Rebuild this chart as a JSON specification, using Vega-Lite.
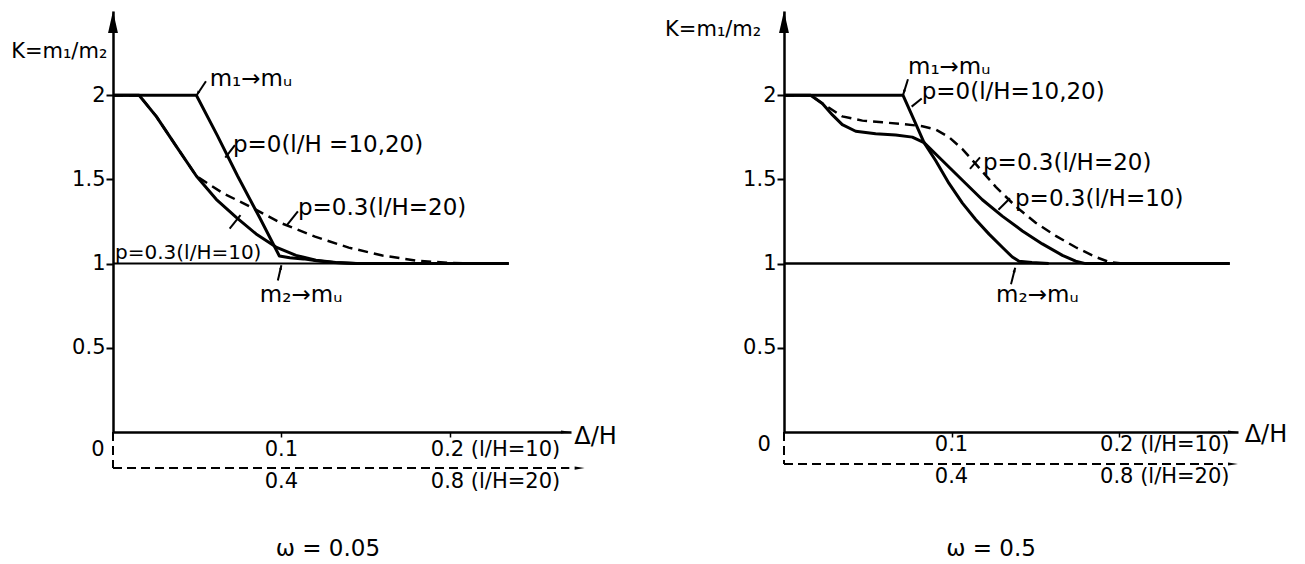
{
  "$schema": "https://vega.github.io/schema/vega-lite/v6.json",
  "background": "white",
  "padding": {"left": 11, "top": 11, "right": 0, "bottom": 0},
  "spacing": 213,
  "bounds": "flush",
  "config": {
    "view": {"stroke": null, "fill": "white"},
    "axis": {"grid": false, "domainColor": "black", "tickColor": "black", "labelColor": "black", "labelFont": "DejaVu Sans", "title": null},
    "text": {"font": "DejaVu Sans", "fill": "black"}
  },
  "datasets": {
    "L_curves": [
      {"s": "p0", "x": 0, "y": 2}, {"s": "p0", "x": 0.0495, "y": 2}, {"s": "p0", "x": 0.062, "y": 1.76}, {"s": "p0", "x": 0.074, "y": 1.52}, {"s": "p0", "x": 0.087, "y": 1.275}, {"s": "p0", "x": 0.0988, "y": 1.045}, {"s": "p0", "x": 0.105, "y": 1.035}, {"s": "p0", "x": 0.113, "y": 1.028}, {"s": "p0", "x": 0.121, "y": 1.017}, {"s": "p0", "x": 0.131, "y": 1.007}, {"s": "p0", "x": 0.145, "y": 1.0}, {"s": "p0", "x": 0.16, "y": 1.0},
      {"s": "p03_10", "x": 0, "y": 2}, {"s": "p03_10", "x": 0.0155, "y": 2}, {"s": "p03_10", "x": 0.0258, "y": 1.873}, {"s": "p03_10", "x": 0.0376, "y": 1.696}, {"s": "p03_10", "x": 0.0495, "y": 1.52}, {"s": "p03_10", "x": 0.0613, "y": 1.382}, {"s": "p03_10", "x": 0.0732, "y": 1.275}, {"s": "p03_10", "x": 0.085, "y": 1.176}, {"s": "p03_10", "x": 0.0968, "y": 1.098}, {"s": "p03_10", "x": 0.1087, "y": 1.049}, {"s": "p03_10", "x": 0.1205, "y": 1.02}, {"s": "p03_10", "x": 0.1323, "y": 1.006}, {"s": "p03_10", "x": 0.144, "y": 1.0}, {"s": "p03_10", "x": 0.235, "y": 1.0},
      {"s": "p03_20", "x": 0, "y": 2}, {"s": "p03_20", "x": 0.0155, "y": 2}, {"s": "p03_20", "x": 0.0258, "y": 1.873}, {"s": "p03_20", "x": 0.0376, "y": 1.696}, {"s": "p03_20", "x": 0.0495, "y": 1.52}, {"s": "p03_20", "x": 0.065, "y": 1.42}, {"s": "p03_20", "x": 0.082, "y": 1.335}, {"s": "p03_20", "x": 0.1, "y": 1.24}, {"s": "p03_20", "x": 0.12, "y": 1.16}, {"s": "p03_20", "x": 0.14, "y": 1.095}, {"s": "p03_20", "x": 0.16, "y": 1.048}, {"s": "p03_20", "x": 0.18, "y": 1.018}, {"s": "p03_20", "x": 0.2, "y": 1.004}, {"s": "p03_20", "x": 0.215, "y": 1.0}, {"s": "p03_20", "x": 0.235, "y": 1.0}
    ],
    "R_curves": [
      {"s": "p0", "x": 0, "y": 2}, {"s": "p0", "x": 0.071, "y": 2}, {"s": "p0", "x": 0.0776, "y": 1.854}, {"s": "p0", "x": 0.0836, "y": 1.718}, {"s": "p0", "x": 0.0905, "y": 1.612}, {"s": "p0", "x": 0.0985, "y": 1.476}, {"s": "p0", "x": 0.1065, "y": 1.359}, {"s": "p0", "x": 0.1144, "y": 1.262}, {"s": "p0", "x": 0.1224, "y": 1.175}, {"s": "p0", "x": 0.1303, "y": 1.097}, {"s": "p0", "x": 0.1363, "y": 1.039}, {"s": "p0", "x": 0.1403, "y": 1.014}, {"s": "p0", "x": 0.148, "y": 1.006}, {"s": "p0", "x": 0.158, "y": 1.0},
      {"s": "p03_10", "x": 0, "y": 2}, {"s": "p03_10", "x": 0.0159, "y": 2}, {"s": "p03_10", "x": 0.0229, "y": 1.951}, {"s": "p03_10", "x": 0.0289, "y": 1.883}, {"s": "p03_10", "x": 0.0348, "y": 1.825}, {"s": "p03_10", "x": 0.0428, "y": 1.786}, {"s": "p03_10", "x": 0.0547, "y": 1.771}, {"s": "p03_10", "x": 0.0667, "y": 1.763}, {"s": "p03_10", "x": 0.0766, "y": 1.751}, {"s": "p03_10", "x": 0.0836, "y": 1.718}, {"s": "p03_10", "x": 0.0945, "y": 1.612}, {"s": "p03_10", "x": 0.1065, "y": 1.495}, {"s": "p03_10", "x": 0.1184, "y": 1.379}, {"s": "p03_10", "x": 0.1303, "y": 1.282}, {"s": "p03_10", "x": 0.1423, "y": 1.194}, {"s": "p03_10", "x": 0.1542, "y": 1.117}, {"s": "p03_10", "x": 0.1662, "y": 1.049}, {"s": "p03_10", "x": 0.1741, "y": 1.014}, {"s": "p03_10", "x": 0.18, "y": 1.0}, {"s": "p03_10", "x": 0.266, "y": 1.0},
      {"s": "p03_20", "x": 0, "y": 2}, {"s": "p03_20", "x": 0.0159, "y": 2}, {"s": "p03_20", "x": 0.0229, "y": 1.951}, {"s": "p03_20", "x": 0.0348, "y": 1.874}, {"s": "p03_20", "x": 0.0468, "y": 1.849}, {"s": "p03_20", "x": 0.0587, "y": 1.839}, {"s": "p03_20", "x": 0.0706, "y": 1.829}, {"s": "p03_20", "x": 0.0826, "y": 1.816}, {"s": "p03_20", "x": 0.0905, "y": 1.796}, {"s": "p03_20", "x": 0.0985, "y": 1.751}, {"s": "p03_20", "x": 0.1065, "y": 1.68}, {"s": "p03_20", "x": 0.1144, "y": 1.592}, {"s": "p03_20", "x": 0.1264, "y": 1.456}, {"s": "p03_20", "x": 0.1383, "y": 1.34}, {"s": "p03_20", "x": 0.1502, "y": 1.243}, {"s": "p03_20", "x": 0.1622, "y": 1.165}, {"s": "p03_20", "x": 0.1741, "y": 1.097}, {"s": "p03_20", "x": 0.1861, "y": 1.039}, {"s": "p03_20", "x": 0.194, "y": 1.01}, {"s": "p03_20", "x": 0.202, "y": 1.0}, {"s": "p03_20", "x": 0.266, "y": 1.0}
    ],
    "L_base": [{"x": 0, "y": 1}, {"x": 0.235, "y": 1}],
    "R_base": [{"x": 0, "y": 1}, {"x": 0.266, "y": 1}],
    "L_lead": [
      {"x": 0.0552, "y": 2.083, "x2": 0.0497, "y2": 2.0},
      {"x": 0.0724, "y": 1.704, "x2": 0.0667, "y2": 1.629},
      {"x": 0.1098, "y": 1.31, "x2": 0.1033, "y2": 1.228},
      {"x": 0.0693, "y": 1.208, "x2": 0.0757, "y2": 1.288},
      {"x": 0.0979, "y": 0.9, "x2": 0.1, "y2": 0.99}
    ],
    "R_lead": [
      {"x": 0.074, "y": 2.095, "x2": 0.0712, "y2": 2.005},
      {"x": 0.0822, "y": 1.98, "x2": 0.0762, "y2": 1.932},
      {"x": 0.117, "y": 1.631, "x2": 0.111, "y2": 1.563},
      {"x": 0.1349, "y": 1.388, "x2": 0.128, "y2": 1.32},
      {"x": 0.1355, "y": 0.878, "x2": 0.138, "y2": 0.975}
    ],
    "L_sec": [
      {"x": 0, "y": 0, "x2": 0, "y2": -0.214},
      {"x": 0, "y": -0.214, "x2": 0.271, "y2": -0.214}
    ],
    "R_sec": [
      {"x": 0, "y": 0, "x2": 0, "y2": -0.19},
      {"x": 0, "y": -0.19, "x2": 0.262, "y2": -0.19}
    ],
    "L_text": [
      {"g": "k", "x": -0.0605, "y": 2.257, "t": "K=m₁/m₂"},
      {"g": "lab", "x": 0.0574, "y": 2.095, "t": "m₁→mᵤ"},
      {"g": "lab", "x": 0.0712, "y": 1.704, "t": "p=0(l/H =10,20)"},
      {"g": "lab", "x": 0.1098, "y": 1.33, "t": "p=0.3(l/H=20)"},
      {"g": "small", "x": 0.0012, "y": 1.063, "t": "p=0.3(l/H=10)"},
      {"g": "lab", "x": 0.0872, "y": 0.814, "t": "m₂→mᵤ"},
      {"g": "tick", "x": -0.0089, "y": -0.107, "t": "0"},
      {"g": "tick", "x": 0.1, "y": -0.107, "t": "0.1"},
      {"g": "tick", "x": 0.1, "y": -0.297, "t": "0.4"},
      {"g": "tickL", "x": 0.2, "y": -0.107, "t": "0.2 (l/H=10)"},
      {"g": "tickL", "x": 0.2, "y": -0.297, "t": "0.8 (l/H=20)"},
      {"g": "delta", "x": 0.274, "y": -0.03, "t": "Δ/H"},
      {"g": "cap", "x": 0.1276, "y": -0.695, "t": "ω = 0.05"}
    ],
    "R_text": [
      {"g": "k", "x": -0.071, "y": 2.387, "t": "K=m₁/m₂"},
      {"g": "lab", "x": 0.074, "y": 2.167, "t": "m₁→mᵤ"},
      {"g": "lab", "x": 0.0822, "y": 2.021, "t": "p=0(l/H=10,20)"},
      {"g": "lab", "x": 0.1188, "y": 1.596, "t": "p=0.3(l/H=20)"},
      {"g": "lab", "x": 0.1379, "y": 1.382, "t": "p=0.3(l/H=10)"},
      {"g": "lab", "x": 0.1266, "y": 0.814, "t": "m₂→mᵤ"},
      {"g": "tick", "x": -0.0119, "y": -0.077, "t": "0"},
      {"g": "tick", "x": 0.1, "y": -0.077, "t": "0.1"},
      {"g": "tick", "x": 0.1, "y": -0.265, "t": "0.4"},
      {"g": "tickL", "x": 0.2, "y": -0.077, "t": "0.2 (l/H=10)"},
      {"g": "tickL", "x": 0.2, "y": -0.265, "t": "0.8 (l/H=20)"},
      {"g": "delta", "x": 0.275, "y": -0.018, "t": "Δ/H"},
      {"g": "cap", "x": 0.1236, "y": -0.695, "t": "ω = 0.5"}
    ]
  },
  "hconcat": [
    {
      "width": 458,
      "height": 421,
      "encoding": {
        "x": {"field": "x", "type": "quantitative", "scale": {"domain": [0, 0.272], "nice": false, "zero": false},
              "axis": {"values": [0.1, 0.2], "labels": false, "domainWidth": 2.5, "tickWidth": 1.5, "tickSize": 5, "title": null}},
        "y": {"field": "y", "type": "quantitative", "scale": {"domain": [0, 2.5], "nice": false, "zero": false},
              "axis": {"values": [0.5, 1, 1.5, 2], "format": "~g", "domainWidth": 2.5, "tickWidth": 2, "tickSize": 7, "labelFontSize": 21, "labelPadding": 1, "title": null}}
      },
      "layer": [
        {"data": {"name": "L_base"}, "mark": {"type": "line", "stroke": "black", "strokeWidth": 2}},
        {"data": {"name": "L_curves"}, "transform": [{"filter": "datum.s != 'p03_20'"}],
         "mark": {"type": "line", "stroke": "black", "strokeWidth": 3, "strokeJoin": "round"},
         "encoding": {"detail": {"field": "s"}}},
        {"data": {"name": "L_curves"}, "transform": [{"filter": "datum.s == 'p03_20'"}],
         "mark": {"type": "line", "stroke": "black", "strokeWidth": 2.5, "strokeDash": [10, 6]}},
        {"data": {"name": "L_lead"}, "mark": {"type": "rule", "stroke": "black", "strokeWidth": 2},
         "encoding": {"x2": {"field": "x2"}, "y2": {"field": "y2"}}},
        {"data": {"name": "L_sec"}, "mark": {"type": "rule", "stroke": "black", "strokeWidth": 2, "strokeDash": [9, 5]},
         "encoding": {"x2": {"field": "x2"}, "y2": {"field": "y2"}}},
        {"data": {"values": [{"x": 0, "y": 2.5}]},
         "mark": {"type": "point", "shape": "M0,0L-0.45,2L0.45,2Z", "filled": true, "fill": "black", "strokeWidth": 0, "opacity": 1, "size": 484}},
        {"data": {"values": [{"x": 0.272, "y": 0}, {"x": 0.2801, "y": -0.214}]},
         "mark": {"type": "point", "shape": "M0,0L-2,-0.32L-2,0.32Z", "filled": true, "fill": "black", "strokeWidth": 0, "opacity": 1, "size": 100}},
        {"data": {"values": [{"x": 0.0497, "y": 2.0}]},
         "mark": {"type": "point", "shape": "M0,0L-0.5,1.5L0.5,1.5Z", "angle": 210, "filled": true, "fill": "black", "strokeWidth": 0, "opacity": 1, "size": 36}},
        {"data": {"values": [{"x": 0.1, "y": 0.99}]},
         "mark": {"type": "point", "shape": "M0,0L-0.5,1.5L0.5,1.5Z", "angle": 12, "filled": true, "fill": "black", "strokeWidth": 0, "opacity": 1, "size": 36}},
        {"data": {"name": "L_text"}, "transform": [{"filter": "datum.g == 'k'"}],
         "mark": {"type": "text", "align": "left", "baseline": "middle", "fontSize": 21},
         "encoding": {"text": {"field": "t"}}},
        {"data": {"name": "L_text"}, "transform": [{"filter": "datum.g == 'lab'"}],
         "mark": {"type": "text", "align": "left", "baseline": "middle", "fontSize": 23},
         "encoding": {"text": {"field": "t"}}},
        {"data": {"name": "L_text"}, "transform": [{"filter": "datum.g == 'small'"}],
         "mark": {"type": "text", "align": "left", "baseline": "middle", "fontSize": 20},
         "encoding": {"text": {"field": "t"}}},
        {"data": {"name": "L_text"}, "transform": [{"filter": "datum.g == 'tick'"}],
         "mark": {"type": "text", "align": "center", "baseline": "middle", "fontSize": 21},
         "encoding": {"text": {"field": "t"}}},
        {"data": {"name": "L_text"}, "transform": [{"filter": "datum.g == 'tickL'"}],
         "mark": {"type": "text", "align": "left", "baseline": "middle", "fontSize": 21, "dx": -19},
         "encoding": {"text": {"field": "t"}}},
        {"data": {"name": "L_text"}, "transform": [{"filter": "datum.g == 'delta'"}],
         "mark": {"type": "text", "align": "left", "baseline": "middle", "fontSize": 24},
         "encoding": {"text": {"field": "t"}}},
        {"data": {"name": "L_text"}, "transform": [{"filter": "datum.g == 'cap'"}],
         "mark": {"type": "text", "align": "center", "baseline": "middle", "fontSize": 23},
         "encoding": {"text": {"field": "t"}}}
      ]
    },
    {
      "width": 454,
      "height": 421,
      "encoding": {
        "x": {"field": "x", "type": "quantitative", "scale": {"domain": [0, 0.271], "nice": false, "zero": false},
              "axis": {"values": [0.1, 0.2], "labels": false, "domainWidth": 2.5, "tickWidth": 1.5, "tickSize": 5, "title": null}},
        "y": {"field": "y", "type": "quantitative", "scale": {"domain": [0, 2.5], "nice": false, "zero": false},
              "axis": {"values": [0.5, 1, 1.5, 2], "format": "~g", "domainWidth": 2.5, "tickWidth": 2, "tickSize": 7, "labelFontSize": 21, "labelPadding": 1, "title": null}}
      },
      "layer": [
        {"data": {"name": "R_base"}, "mark": {"type": "line", "stroke": "black", "strokeWidth": 2.5}},
        {"data": {"name": "R_curves"}, "transform": [{"filter": "datum.s != 'p03_20'"}],
         "mark": {"type": "line", "stroke": "black", "strokeWidth": 3, "strokeJoin": "round"},
         "encoding": {"detail": {"field": "s"}}},
        {"data": {"name": "R_curves"}, "transform": [{"filter": "datum.s == 'p03_20'"}],
         "mark": {"type": "line", "stroke": "black", "strokeWidth": 2.5, "strokeDash": [10, 6]}},
        {"data": {"name": "R_lead"}, "mark": {"type": "rule", "stroke": "black", "strokeWidth": 2},
         "encoding": {"x2": {"field": "x2"}, "y2": {"field": "y2"}}},
        {"data": {"name": "R_sec"}, "mark": {"type": "rule", "stroke": "black", "strokeWidth": 2, "strokeDash": [9, 5]},
         "encoding": {"x2": {"field": "x2"}, "y2": {"field": "y2"}}},
        {"data": {"values": [{"x": 0, "y": 2.5}]},
         "mark": {"type": "point", "shape": "M0,0L-0.45,2L0.45,2Z", "filled": true, "fill": "black", "strokeWidth": 0, "opacity": 1, "size": 484}},
        {"data": {"values": [{"x": 0.271, "y": 0}, {"x": 0.271, "y": -0.19}]},
         "mark": {"type": "point", "shape": "M0,0L-2,-0.32L-2,0.32Z", "filled": true, "fill": "black", "strokeWidth": 0, "opacity": 1, "size": 100}},
        {"data": {"values": [{"x": 0.0712, "y": 2.005}]},
         "mark": {"type": "point", "shape": "M0,0L-0.5,1.5L0.5,1.5Z", "angle": 197, "filled": true, "fill": "black", "strokeWidth": 0, "opacity": 1, "size": 36}},
        {"data": {"values": [{"x": 0.138, "y": 0.975}]},
         "mark": {"type": "point", "shape": "M0,0L-0.5,1.5L0.5,1.5Z", "angle": 15, "filled": true, "fill": "black", "strokeWidth": 0, "opacity": 1, "size": 36}},
        {"data": {"name": "R_text"}, "transform": [{"filter": "datum.g == 'k'"}],
         "mark": {"type": "text", "align": "left", "baseline": "middle", "fontSize": 21},
         "encoding": {"text": {"field": "t"}}},
        {"data": {"name": "R_text"}, "transform": [{"filter": "datum.g == 'lab'"}],
         "mark": {"type": "text", "align": "left", "baseline": "middle", "fontSize": 23},
         "encoding": {"text": {"field": "t"}}},
        {"data": {"name": "R_text"}, "transform": [{"filter": "datum.g == 'tick'"}],
         "mark": {"type": "text", "align": "center", "baseline": "middle", "fontSize": 21},
         "encoding": {"text": {"field": "t"}}},
        {"data": {"name": "R_text"}, "transform": [{"filter": "datum.g == 'tickL'"}],
         "mark": {"type": "text", "align": "left", "baseline": "middle", "fontSize": 21, "dx": -19},
         "encoding": {"text": {"field": "t"}}},
        {"data": {"name": "R_text"}, "transform": [{"filter": "datum.g == 'delta'"}],
         "mark": {"type": "text", "align": "left", "baseline": "middle", "fontSize": 24},
         "encoding": {"text": {"field": "t"}}},
        {"data": {"name": "R_text"}, "transform": [{"filter": "datum.g == 'cap'"}],
         "mark": {"type": "text", "align": "center", "baseline": "middle", "fontSize": 23},
         "encoding": {"text": {"field": "t"}}}
      ]
    }
  ]
}
